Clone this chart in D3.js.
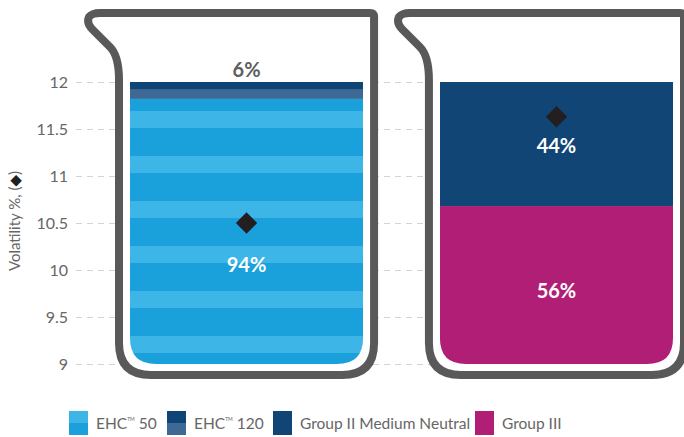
<!DOCTYPE html>
<html>
<head>
<meta charset="utf-8">
<script src="https://cdn.jsdelivr.net/npm/d3@7/dist/d3.min.js"></script>
<style>
  html, body { margin: 0; padding: 0; background: #fff; }
  svg { display: block; font-family: Lato, "Noto Sans", sans-serif; }
</style>
</head>
<body>
<svg id="chart" width="684" height="437"></svg>
<script>
// ---- data ----
const groups = ["EHC", "Conventional"];
const shareSeries = ["EHC 50", "EHC 120", "Group II Medium Neutral", "Group III"];
// share of each column (%), bottom segment first
const ehcShares = [94, 6];            // EHC 50, EHC 120
const conventionalShares = [56, 44];  // Group III, Group II Medium Neutral
// average volatility per column (%)
const volatility = [10.5, 11.63];
const yTicks = [9, 9.5, 10, 10.5, 11, 11.5, 12];
// legend entries: main text, trademark mark, suffix
const legendLabels = [["EHC", "TM", " 50"], ["EHC", "TM", " 120"], ["Group II Medium Neutral", "", ""], ["Group III", "", ""]];

// ---- colours ----
const C = {
  ehc50Light: "#3db5e6", ehc50Dark: "#1aa1dc",
  ehc120Dark: "#0f4476", ehc120Light: "#3e6994",
  group2: "#114576", group3: "#b01e76",
  outline: "#595959", grid: "#d3d3d3", text: "#5e5e5e", label: "#666666", diamond: "#231f20"
};

const svg = d3.select("#chart");
const defs = svg.append("defs");

// ---- scales ----
const y = d3.scaleLinear().domain([9, 12]).range([364, 82]);
const yShare = d3.scaleLinear().domain([0, 100]).range([364, 82]);
const x = d3.scaleBand().domain(groups).range([130, 673]).paddingInner(0.248).paddingOuter(0);

// ---- striped fill for EHC 50 ----
const p50 = defs.append("pattern").attr("id", "ehc50").attr("patternUnits", "userSpaceOnUse")
  .attr("width", 10).attr("height", 45).attr("y", 111);
p50.append("rect").attr("width", 10).attr("height", 45).attr("fill", C.ehc50Dark);
p50.append("rect").attr("width", 10).attr("height", 17).attr("fill", C.ehc50Light);

// ---- gridlines and tick labels ----
const axisG = svg.append("g").attr("transform", "translate(76,0)")
  .call(d3.axisLeft(y).tickValues(yTicks).tickSize(-608).tickPadding(8).tickFormat(d3.format("")));
axisG.select(".domain").remove();
axisG.selectAll(".tick line").attr("stroke", C.grid).attr("stroke-dasharray", "6,5");
axisG.selectAll(".tick text").attr("fill", C.label).attr("font-size", 16)
  .attr("font-family", "Lato, sans-serif");

// ---- beaker outline path (around a column) ----
function beakerPath(x0, x1) {
  const L = x0 - 11, R = x1 + 11, T = 13, B = y(9) + 11;
  return `M ${L - 19},${T} L ${R - 4},${T} Q ${R},${T} ${R},${T + 4} L ${R},${B - 32}` +
    ` Q ${R},${B} ${R - 32},${B} L ${L + 32},${B} Q ${L},${B} ${L},${B - 32}` +
    ` L ${L},${T + 67} Q ${L},${T + 43} ${L - 9},${T + 34} L ${L - 26},${T + 17}` +
    ` Q ${L - 33},${T + 10} ${L - 30},${T + 4} Q ${L - 27},${T} ${L - 19},${T} Z`;
}

// column fill clip with rounded bottom corners
function fillClip(x0, x1) {
  const t = y(12), b = y(9), r = 26;
  return `M ${x0},${t} L ${x1},${t} L ${x1},${b - r} Q ${x1},${b} ${x1 - r},${b}` +
    ` L ${x0 + r},${b} Q ${x0},${b} ${x0},${b - r} Z`;
}

const beakers = svg.append("g");
groups.forEach((g, i) => {
  const x0 = x(g), x1 = x(g) + x.bandwidth();
  beakers.append("path").attr("d", beakerPath(x0, x1))
    .attr("fill", "#fff").attr("stroke", C.outline).attr("stroke-width", 8)
    .attr("stroke-linejoin", "round");
  defs.append("clipPath").attr("id", "clip" + i).append("path").attr("d", fillClip(x0, x1));
});

// ---- stacked columns ----
function stack(vals) {
  let acc = 0;
  return vals.map(v => { const s = { y0: acc, y1: acc + v, v }; acc += v; return s; });
}
const ehcStack = stack(ehcShares);
const convStack = stack(conventionalShares);

const colEhc = svg.append("g").attr("clip-path", "url(#clip0)");
const xe = x(groups[0]), we = x.bandwidth();
// EHC 50 (striped)
colEhc.append("rect").attr("x", xe).attr("width", we)
  .attr("y", yShare(ehcStack[0].y1)).attr("height", yShare(ehcStack[0].y0) - yShare(ehcStack[0].y1))
  .attr("fill", "url(#ehc50)");
// EHC 120 (two-tone)
const e120Top = yShare(ehcStack[1].y1), e120Bot = yShare(ehcStack[1].y0);
colEhc.append("rect").attr("x", xe).attr("width", we)
  .attr("y", e120Top).attr("height", e120Bot - e120Top).attr("fill", C.ehc120Light);
colEhc.append("rect").attr("x", xe).attr("width", we)
  .attr("y", e120Top).attr("height", (e120Bot - e120Top) * 0.42).attr("fill", C.ehc120Dark);

const colConv = svg.append("g").attr("clip-path", "url(#clip1)");
const xc = x(groups[1]);
const convColors = [C.group3, C.group2];
convStack.forEach((s, k) => {
  colConv.append("rect").attr("x", xc).attr("width", we)
    .attr("y", yShare(s.y1)).attr("height", yShare(s.y0) - yShare(s.y1))
    .attr("fill", convColors[k]);
});

// ---- volatility diamonds ----
const diamond = d3.symbol().type(d3.symbolDiamond2).size(290);
svg.append("g").selectAll("path").data(volatility).join("path")
  .attr("d", diamond)
  .attr("transform", (d, i) => `translate(${x(groups[i]) + x.bandwidth() / 2},${y(d)})`)
  .attr("fill", C.diamond);

// ---- share labels ----
const labels = svg.append("g").attr("text-anchor", "middle").attr("font-weight", 700).attr("font-size", 20);
const cxE = xe + we / 2, cxC = xc + we / 2;
labels.append("text").attr("x", cxE).attr("y", yShare(ehcStack[1].y1) - 5)
  .attr("fill", C.text).text(ehcShares[1] + "%");
labels.append("text").attr("x", cxE).attr("y", y(volatility[0]) + 49)
  .attr("fill", "#fff").text(ehcShares[0] + "%");
labels.append("text").attr("x", cxC).attr("y", yShare(convStack[1].y0 + convStack[1].v / 2) + 9)
  .attr("fill", "#fff").text(conventionalShares[1] + "%");
labels.append("text").attr("x", cxC).attr("y", yShare(convStack[0].v / 2) + 13)
  .attr("fill", "#fff").text(conventionalShares[0] + "%");

// ---- y-axis title ----
const title = svg.append("text").attr("transform", "translate(20,221) rotate(-90)")
  .attr("text-anchor", "middle").attr("font-size", 15).attr("fill", C.label);
title.append("tspan").text("Volatility %, (");
title.append("tspan").attr("fill", C.diamond).attr("font-family", "DejaVu Sans").text("\u25C6");
title.append("tspan").text(")");

// ---- legend ----
const legendX = [69, 167, 273, 475];
const legend = svg.append("g");
legendLabels.forEach((lab, i) => {
  const g = legend.append("g").attr("transform", `translate(${legendX[i]},411)`);
  if (i === 0) {
    g.append("rect").attr("width", 19).attr("height", 12).attr("fill", C.ehc50Light);
    g.append("rect").attr("y", 12).attr("width", 19).attr("height", 12).attr("fill", C.ehc50Dark);
  } else if (i === 1) {
    g.append("rect").attr("width", 19).attr("height", 12).attr("fill", C.ehc120Dark);
    g.append("rect").attr("y", 12).attr("width", 19).attr("height", 12).attr("fill", C.ehc120Light);
  } else {
    g.append("rect").attr("width", 19).attr("height", 24).attr("fill", i === 2 ? C.group2 : C.group3);
  }
  const t = g.append("text").attr("x", 27).attr("y", 18).attr("font-size", 15.5).attr("fill", C.label);
  t.append("tspan").text(lab[0]);
  if (lab[1]) {
    t.append("tspan").attr("font-size", 5).attr("dy", -8).text(lab[1]);
    t.append("tspan").attr("dy", 8).text(lab[2]);
  }
});
</script>
</body>
</html>
